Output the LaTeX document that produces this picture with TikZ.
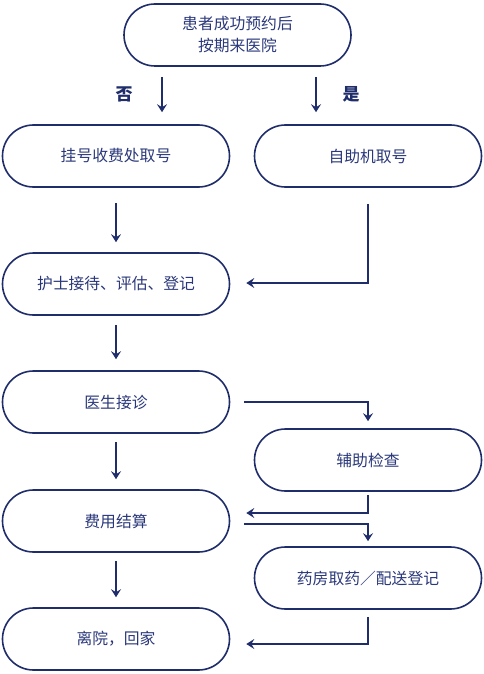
\documentclass[tikz,border=0pt]{standalone}
\usepackage{fontspec}
\usepackage{tikz}
\usetikzlibrary{arrows.meta}
\newfontfamily\cjk{Noto Sans CJK SC}
\definecolor{navy}{RGB}{31,45,107}
\definecolor{navytext}{RGB}{42,56,122}

\begin{document}
\begin{tikzpicture}[x=1pt, y=-1pt,
        box/.style={draw=navy, line width=1.6pt, rounded corners=31pt,
            minimum width=227pt, minimum height=62pt, align=center,
            text=navytext, font=\cjk\fontsize{15.8}{22}\selectfont},
        link/.style={draw=navy, line width=1.2pt,
            -{Stealth[length=8pt, width=10pt, inset=3pt]}},
        yesno/.style={text=navy, font=\cjk\bfseries\fontsize{17}{20}\selectfont}]
            \useasboundingbox (0, 0) rectangle (483, 674);
            \node[box] (start) at (237.5, 35) {患者成功预约后\\按期来医院};
            \node[box] (counter) at (116, 156) {挂号收费处取号};
            \node[box] (kiosk) at (368, 156) {自助机取号};
            \node[box] (nurse) at (116, 284) {护士接待、评估、登记};
            \node[box] (doctor) at (116, 402) {医生接诊};
            \node[box] (exam) at (368, 460) {辅助检查};
            \node[box] (pay) at (116, 521) {费用结算};
            \node[box] (pharmacy) at (368, 578) {药房取药／配送登记};
            \node[box] (leave) at (116, 639) {离院，回家};
            \node[yesno] (no) at (124, 94) {否};
            \node[yesno] (yes) at (351, 94) {是};
            % top branches
            \draw[link] ([xshift=-75.5pt, yshift=-10pt]start.south) -- ([xshift=46pt, yshift=12pt]counter.north);
            \draw[link] ([xshift=78.5pt, yshift=-10pt]start.south) -- ([xshift=-52pt, yshift=12pt]kiosk.north);
            % left column
            \draw[link] ([yshift=-15pt]counter.south) -- ([yshift=10pt]nurse.north);
            \draw[link] ([yshift=-9pt]nurse.south) -- ([yshift=11pt]doctor.north);
            \draw[link] ([yshift=-8pt]doctor.south) -- ([yshift=10pt]pay.north);
            \draw[link] ([yshift=-8pt]pay.south) -- ([yshift=10pt]leave.north);
            % right side
            \draw[link] ([yshift=-16pt]kiosk.south) |- ([xshift=16pt, yshift=1pt]nurse.east);
            \draw[link] ([xshift=14pt]doctor.east) -| ([yshift=7pt]exam.north);
            \draw[link] ([yshift=-3pt]exam.south) |- ([xshift=16pt, yshift=8pt]pay.east);
            \draw[link] ([xshift=14pt, yshift=-3pt]pay.east) -| ([yshift=5pt]pharmacy.north);
            \draw[link] ([yshift=-7pt]pharmacy.south) |- ([xshift=16pt, yshift=-5pt]leave.east);
        \end{tikzpicture}
\end{document}
